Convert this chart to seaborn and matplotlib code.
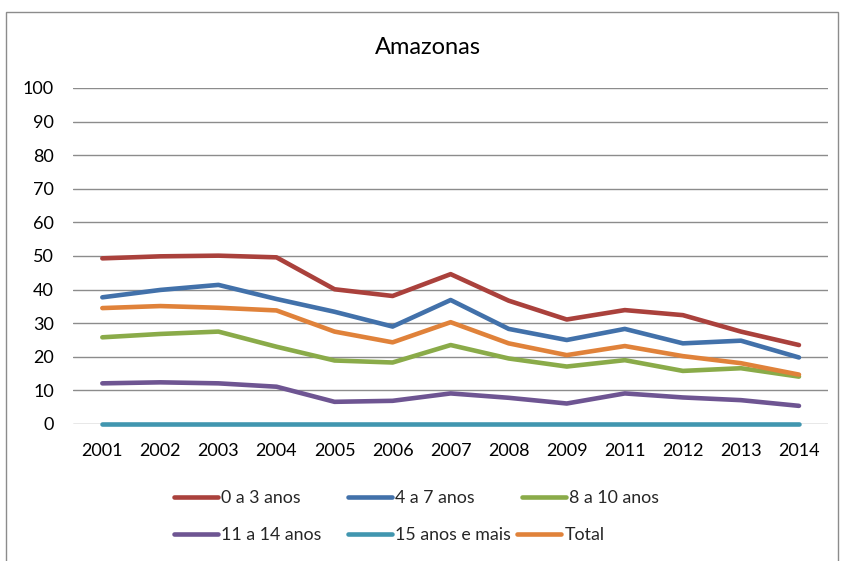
import matplotlib
matplotlib.use("Agg")
import matplotlib.pyplot as plt
import matplotlib.patches as mpatches
import seaborn as sns
import pandas as pd

years = ["2001", "2002", "2003", "2004", "2005", "2006", "2007",
         "2008", "2009", "2011", "2012", "2013", "2014"]
series_names = ["0 a 3 anos", "4 a 7 anos", "8 a 10 anos",
                "11 a 14 anos", "15 anos e mais", "Total"]
v_0a3 = [49.3, 49.9, 50.1, 49.6, 40.1, 38.1, 44.6, 36.7, 31.1, 33.9, 32.4, 27.5, 23.5]
v_4a7 = [37.7, 39.9, 41.4, 37.2, 33.4, 29.0, 36.9, 28.3, 25.0, 28.3, 24.0, 24.8, 19.8]
v_8a10 = [25.8, 26.8, 27.5, 23.0, 18.9, 18.3, 23.5, 19.5, 17.1, 19.0, 15.8, 16.6, 14.1]
v_11a14 = [12.1, 12.4, 12.1, 11.1, 6.6, 6.9, 9.1, 7.8, 6.1, 9.1, 7.9, 7.1, 5.4]
v_15mais = [0, 0, 0, 0, 0, 0, 0, 0, 0, 0, 0, 0, 0]
v_total = [34.5, 35.1, 34.6, 33.8, 27.5, 24.3, 30.3, 24.0, 20.5, 23.2, 20.2, 18.1, 14.7]
colors = ["#AA413C", "#4271AA", "#8AAB49", "#6E5592", "#4196AF", "#E0823A"]
title = "Amazonas"
yticks = [0, 10, 20, 30, 40, 50, 60, 70, 80, 90, 100]

all_vals = [v_0a3, v_4a7, v_8a10, v_11a14, v_15mais, v_total]
rows = []
for name, vals in zip(series_names, all_vals):
    for y, v in zip(years, vals):
        rows.append({"Ano": y, "Valor": v, "Faixa": name})
df = pd.DataFrame(rows)

sns.set_theme(style="white")
plt.rcParams["font.family"] = ["Lato", "DejaVu Sans"]

W, H = 843, 561
fig = plt.figure(figsize=(W / 100, H / 100), dpi=100)
ax = fig.add_axes([73.3 / W, 1 - 424 / H, (828 - 73.3) / W, (424 - 88) / H])

sns.lineplot(data=df, x="Ano", y="Valor", hue="Faixa", hue_order=series_names,
             palette=colors, linewidth=3.3, sort=False, ax=ax, zorder=3,
             solid_capstyle="round")
for ln in ax.lines:
    ln.set_clip_on(False)

ax.set_xlim(-0.5, len(years) - 0.5)
ax.set_ylim(0, 100)
ax.set_yticks(yticks)
ax.set_yticklabels([str(t) for t in yticks])
ax.set_xticks(range(len(years)))
ax.set_xticklabels(years)
ax.set_xlabel("")
ax.set_ylabel("")
for s in ax.spines.values():
    s.set_visible(False)
ax.yaxis.grid(True, color="#8C8C8C", linewidth=1.0)
ax.set_axisbelow(True)
ax.tick_params(axis="both", length=0, labelsize=13, colors="black")
ax.tick_params(axis="y", pad=14)
ax.tick_params(axis="x", pad=14)

handles, labels = ax.get_legend_handles_labels()
ax.get_legend().remove()

fig.text(428 / W, 1 - 47 / H, title, ha="center", va="center",
         fontsize=17, color="black")

pos = {"0 a 3 anos": (174, 498), "4 a 7 anos": (348, 498), "8 a 10 anos": (522, 498),
       "11 a 14 anos": (174, 535), "15 anos e mais": (348, 535), "Total": (517, 535)}
for h, l in zip(handles, labels):
    px, py = pos[l]
    fig.legend([h], [l], loc="center left", bbox_to_anchor=(px / W, 1 - py / H),
               frameon=False, fontsize=12.8, handlelength=2.45, handletextpad=0.22,
               borderpad=0, borderaxespad=0)

fig.patches.append(mpatches.Rectangle((6 / W, -0.1), (838 - 6) / W, 1.1 - 12 / H,
                                      transform=fig.transFigure, fill=False,
                                      edgecolor="#8C8C8C", linewidth=1.0))

fig.savefig("out.png", dpi=100)
